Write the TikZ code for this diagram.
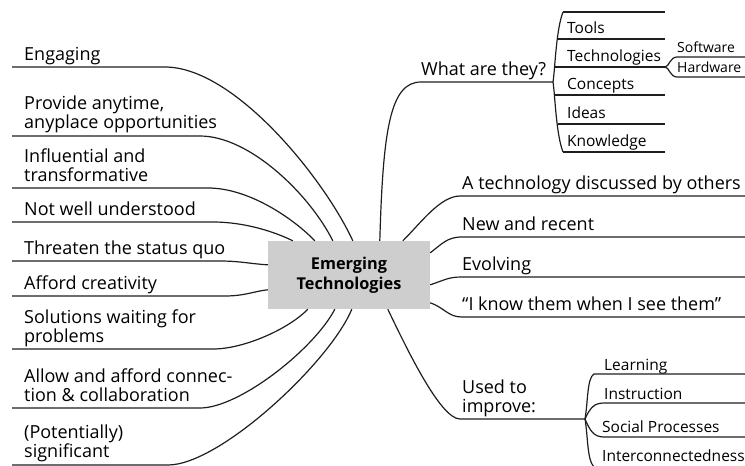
\documentclass[tikz,border=0pt]{standalone}
\usepackage{fontspec}
\setmainfont{Open Sans}
\usetikzlibrary{calc}
\definecolor{boxgray}{RGB}{206,206,206}
\definecolor{inkline}{RGB}{30,30,30}
\begin{document}
\begin{tikzpicture}[x=1pt,y=-1pt,
  link/.style={line width=1.2pt, draw=inkline},
  item/.style={anchor=base west, inner sep=0pt, align=left,
    font=\fontsize{18}{18.5}\selectfont},
  subitem/.style={anchor=base west, inner sep=0pt,
    font=\fontsize{15.5}{16}\selectfont},
  tinyitem/.style={anchor=base west, inner sep=0pt,
    font=\fontsize{14}{15}\selectfont},
  hub/.style={fill=boxgray, minimum width=162pt, minimum height=68pt,
    inner sep=0pt, align=center,
    font=\fontsize{16.3}{20}\selectfont\bfseries},
]
\useasboundingbox (0,0) rectangle (745,466);

% central topic
\node[hub] (ec) at (349,275) {Emerging\\Technologies};

% ---------- left branches ----------
\node[item] (eng) at (24,60) {Engaging};
\coordinate (eng-l) at (12,67);
\draw[link] (eng-l) -- (165,67) .. controls (235,67) and (325,180) .. ($(ec.north west)+(85,0)$);

\node[item] (prov) at (24,128) {Provide anytime,\\anyplace opportunities};
\coordinate (prov-l) at (12,136);
\draw[link] (prov-l) -- (200,136) .. controls (250,136) and (310,195) .. ($(ec.north west)+(65,0)$);

\node[item] (infl) at (24,181) {Influential and\\transformative};
\coordinate (infl-l) at (12,188);
\draw[link] (infl-l) -- (208,188) .. controls (250,188) and (295,220) .. ($(ec.north west)+(47,0)$);

\node[item] (notw) at (24,215) {Not well understood};
\coordinate (notw-l) at (12,222);
\draw[link] (notw-l) -- (213,222) .. controls (245,222) and (275,232) .. ($(ec.north west)+(25,0)$);

\node[item] (thr) at (24,254) {Threaten the status quo};
\coordinate (thr-l) at (12,261);
\draw[link] (thr-l) -- (220,261) .. controls (240,261) and (252,264) .. ($(ec.north west)+(0,24)$);

\node[item] (aff) at (24,289) {Afford creativity};
\coordinate (aff-l) at (12,296);
\draw[link] (aff-l) -- (225,296) .. controls (245,296) and (255,291) .. ($(ec.north west)+(0,49)$);

\node[item] (sol) at (24,342) {Solutions waiting for\\problems};
\coordinate (sol-l) at (12,349);
\draw[link] (sol-l) -- (213,349) .. controls (245,349) and (290,328) .. ($(ec.south west)+(40,0)$);

\node[item] (allow) at (24,401) {Allow and afford connec-\\tion \& collaboration};
\coordinate (allow-l) at (12,408);
\draw[link] (allow-l) -- (200,408) .. controls (240,408) and (315,348) .. ($(ec.south west)+(67,0)$);

\node[item] (pot) at (24,457) {(Potentially)\\significant};
\coordinate (pot-l) at (12,465);
\draw[link] (pot-l) -- (168,465) .. controls (220,465) and (330,362) .. ($(ec.south west)+(84,0)$);

% ---------- right branches ----------
% What are they?
\node[item] (what) at (421,75) {What are they?};
\coordinate (what-j) at (553,82);
\draw[link] ($(ec.north west)+(112,0)$) .. controls (383,130) and (390,82) .. (421,82) -- (what-j);
% bracket of the sub-list
\draw[link] (563,12) .. controls (556,30) and (555,70) .. (what-j)
            .. controls (555,94) and (556,134) .. (563,152);
\node[subitem] (tools) at (567,33) {Tools};
\node[subitem] (tech)  at (567,61) {Technologies};
\node[subitem] (conc)  at (567,89) {Concepts};
\node[subitem] (ideas) at (567,118) {Ideas};
\node[subitem] (know)  at (567,146) {Knowledge};
\draw[link] (563,12) -- (665,12);
\draw[link] (558,39) -- (665,39);
\coordinate (tech-j) at (665,67);
\draw[link] (555,67) -- (tech-j);
\draw[link] (555,95) -- (665,95);
\draw[link] (558,124) -- (665,124);
\draw[link] (563,152) -- (665,152);
% Software / Hardware
\node[tinyitem] (soft) at (677,52) {Software};
\node[tinyitem] (hard) at (677,72) {Hardware};
\draw[link] (tech-j) .. controls (669,67) and (670,57) .. (677,57) -- (745,57);
\draw[link] (tech-j) .. controls (669,67) and (670,77) .. (677,77) -- (745,77);

% A technology discussed by others
\node[item] (disc) at (462,189) {A technology discussed by others};
\draw[link] ($(ec.north west)+(135,0)$) .. controls (420,224) and (440,196) .. (460,196) -- (745,196);

% New and recent
\node[item] (new) at (462,230) {New and recent};
\draw[link] ($(ec.north east)+(0,12)$) .. controls (442,244) and (447,237) .. (462,237) -- (745,237);

% Evolving
\node[item] (evo) at (462,270) {Evolving};
\draw[link] ($(ec.north east)+(0,44)$) .. controls (445,280) and (448,277) .. (462,277) -- (745,277);

% I know them when I see them
\node[item] (know2) at (462,310) {\textquotedblleft I know them when I see them\textquotedblright};
\draw[link] ($(ec.north east)+(0,62)$) .. controls (445,308) and (448,317) .. (462,317) -- (745,317);

% Used to improve
\node[item] (used) at (462,412) {Used to\\improve:};
\coordinate (used-j) at (585,419);
\draw[link] ($(ec.south west)+(120,0)$) .. controls (405,345) and (440,419) .. (460,419) -- (used-j);
\node[subitem] (learn) at (604,370) {Learning};
\node[subitem] (instr) at (604,399) {Instruction};
\node[subitem] (soc)   at (602,432) {Social Processes};
\node[subitem] (inter) at (602,461) {Interconnectedness};
\draw[link] (used-j) .. controls (588,402) and (587,378) .. (594,374) -- (745,374);
\draw[link] (used-j) .. controls (590,408) and (594,403) .. (604,403) -- (745,403);
\draw[link] (used-j) .. controls (590,431) and (594,437) .. (604,437) -- (745,437);
\draw[link] (used-j) .. controls (588,436) and (587,460) .. (594,467);
\end{tikzpicture}
\end{document}
